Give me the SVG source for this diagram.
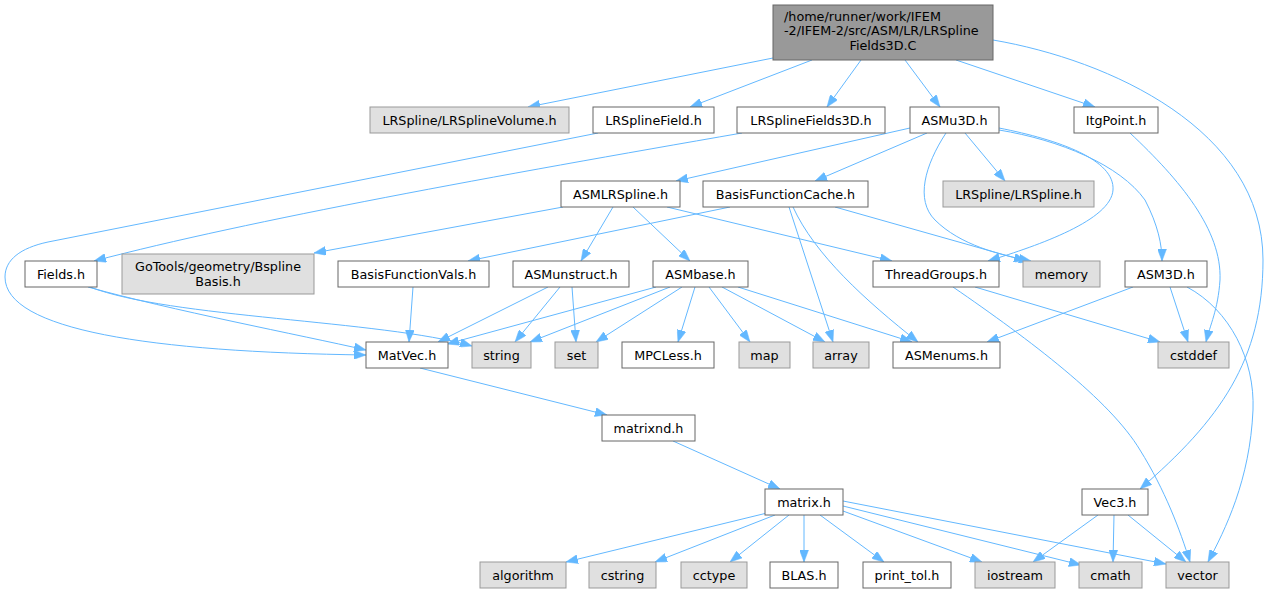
<svg xmlns="http://www.w3.org/2000/svg" width="1269" height="593" viewBox="0 0 1269 593">
<style>
text{font-family:"DejaVu Sans","Liberation Sans",sans-serif;font-size:12.75px;fill:#000;text-anchor:middle}
.n rect{fill:#fff;stroke:#666;stroke-width:1}
.g rect{fill:#e0e0e0;stroke:#999;stroke-width:1}
.r rect{fill:#999;stroke:#666;stroke-width:1}
#edges path{fill:none;stroke:#63b8ff;stroke-width:1;marker-end:url(#ah)}
</style>
<defs>
<marker id="ah" viewBox="0 0 12 9" refX="12" refY="4.5" markerWidth="12" markerHeight="9" markerUnits="userSpaceOnUse" orient="auto">
<path d="M0,0 L12,4.5 L0,9 z" fill="#63b8ff" stroke="#63b8ff" stroke-width="0.5"/>
</marker>
</defs>
<rect width="1269" height="593" fill="#fff"/>
<g id="edges">
<path d="M773,58 L528,107"/>
<path d="M812,60 L690,107"/>
<path d="M861,60 L827,107"/>
<path d="M905,60 L940,107"/>
<path d="M956,60 L1095,107"/>
<path d="M993,40 C1110,60 1263,130 1263,260 C1263,360 1220,420 1140,489"/>
<path d="M598,133 L48,242 C20,248 5,260 5,277 C5,330 150,352 366,355"/>
<path d="M742,133 C500,175 250,220 94,261"/>
<path d="M910,128 L676,181"/>
<path d="M927,133 L815,181"/>
<path d="M965,133 L1005,181"/>
<path d="M946,133 C925,165 915,200 935,220 C960,245 1000,255 1031,261"/>
<path d="M999,128 C1060,140 1115,160 1113,190 C1111,220 1040,245 988,261"/>
<path d="M999,130 C1060,140 1120,165 1145,200 C1158,225 1162,245 1162,261"/>
<path d="M563,207 L314,253"/>
<path d="M613,207 L581,261"/>
<path d="M633,207 L690,261"/>
<path d="M667,207 L892,261"/>
<path d="M730,207 L468,261"/>
<path d="M789,207 L833,342"/>
<path d="M793,207 C815,255 865,300 918,342"/>
<path d="M835,207 L1026,261"/>
<path d="M88,287 C170,310 300,335 366,350"/>
<path d="M90,287 C170,318 380,320 472,346"/>
<path d="M413,287 L409,342"/>
<path d="M548,287 L438,342"/>
<path d="M560,287 L515,342"/>
<path d="M572,287 L576,342"/>
<path d="M656,287 L447,344"/>
<path d="M670,287 L530,342"/>
<path d="M682,287 L596,342"/>
<path d="M695,287 L678,342"/>
<path d="M709,287 L750,342"/>
<path d="M722,287 L825,342"/>
<path d="M738,287 L912,342"/>
<path d="M975,287 L1160,342"/>
<path d="M953,287 C1030,340 1110,400 1140,450 C1165,490 1180,530 1190,562"/>
<path d="M1133,287 L987,342"/>
<path d="M1170,287 L1188,342"/>
<path d="M1187,287 C1230,310 1255,360 1253,410 C1250,480 1225,530 1208,562"/>
<path d="M1130,133 C1180,180 1222,230 1220,280 C1218,310 1210,325 1206,342"/>
<path d="M420,368 L607,415"/>
<path d="M673,441 L780,489"/>
<path d="M767,513 L566,562"/>
<path d="M775,515 L655,562"/>
<path d="M789,515 L730,562"/>
<path d="M804,515 L804,562"/>
<path d="M820,515 L884,562"/>
<path d="M843,511 L982,562"/>
<path d="M843,506 L1081,565"/>
<path d="M843,501 L1166,564"/>
<path d="M1098,515 L1033,562"/>
<path d="M1114,515 L1113,562"/>
<path d="M1128,515 L1186,562"/>
</g>
<g id="root" class="r"><rect x="773" y="5" width="220" height="55"/><text x="784" y="20.5" style="text-anchor:start">/home/runner/work/IFEM</text><text x="784" y="35.3" style="text-anchor:start">-2/IFEM-2/src/ASM/LR/LRSpline</text><text x="883" y="50">Fields3D.C</text></g>
<g id="LRSplineVolume" class="g"><rect x="370" y="107" width="199" height="26"/><text x="469.5" y="124.5">LRSpline/LRSplineVolume.h</text></g>
<g id="LRSplineField" class="n"><rect x="593" y="107" width="121" height="26"/><text x="653.5" y="124.5">LRSplineField.h</text></g>
<g id="LRSplineFields3D" class="n"><rect x="737" y="107" width="148" height="26"/><text x="811" y="124.5">LRSplineFields3D.h</text></g>
<g id="ASMu3D" class="n"><rect x="910" y="107" width="89" height="26"/><text x="954.5" y="124.5">ASMu3D.h</text></g>
<g id="ItgPoint" class="n"><rect x="1074" y="107" width="84" height="26"/><text x="1116" y="124.5">ItgPoint.h</text></g>
<g id="ASMLRSpline" class="n"><rect x="561" y="181" width="119" height="26"/><text x="620.5" y="198.5">ASMLRSpline.h</text></g>
<g id="BasisFunctionCache" class="n"><rect x="703" y="181" width="165" height="26"/><text x="785.5" y="198.5">BasisFunctionCache.h</text></g>
<g id="LRSpline" class="g"><rect x="943" y="181" width="151" height="26"/><text x="1018.5" y="198.5">LRSpline/LRSpline.h</text></g>
<g id="Fields" class="n"><rect x="25" y="261" width="72" height="26"/><text x="61" y="278.5">Fields.h</text></g>
<g id="BsplineBasis" class="g"><rect x="122" y="254" width="192" height="40"/><text x="218" y="271">GoTools/geometry/Bspline</text><text x="218" y="285.5">Basis.h</text></g>
<g id="BasisFunctionVals" class="n"><rect x="338" y="261" width="151" height="26"/><text x="413.5" y="278.5">BasisFunctionVals.h</text></g>
<g id="ASMunstruct" class="n"><rect x="513" y="261" width="116" height="26"/><text x="571" y="278.5">ASMunstruct.h</text></g>
<g id="ASMbase" class="n"><rect x="653" y="261" width="95" height="26"/><text x="700.5" y="278.5">ASMbase.h</text></g>
<g id="ThreadGroups" class="n"><rect x="873" y="261" width="126" height="26"/><text x="936" y="278.5">ThreadGroups.h</text></g>
<g id="memory" class="g"><rect x="1023" y="261" width="77" height="26"/><text x="1061.5" y="278.5">memory</text></g>
<g id="ASM3D" class="n"><rect x="1125" y="261" width="82" height="26"/><text x="1166" y="278.5">ASM3D.h</text></g>
<g id="MatVec" class="n"><rect x="366" y="342" width="82" height="26"/><text x="407" y="359.5">MatVec.h</text></g>
<g id="string" class="g"><rect x="472" y="342" width="59" height="26"/><text x="501.5" y="359.5">string</text></g>
<g id="set" class="g"><rect x="555" y="342" width="43" height="26"/><text x="576.5" y="359.5">set</text></g>
<g id="MPCLess" class="n"><rect x="622" y="342" width="92" height="26"/><text x="668" y="359.5">MPCLess.h</text></g>
<g id="map" class="g"><rect x="739" y="342" width="51" height="26"/><text x="764.5" y="359.5">map</text></g>
<g id="array" class="g"><rect x="813" y="342" width="56" height="26"/><text x="841" y="359.5">array</text></g>
<g id="ASMenums" class="n"><rect x="893" y="342" width="107" height="26"/><text x="946.5" y="359.5">ASMenums.h</text></g>
<g id="cstddef" class="g"><rect x="1158" y="342" width="71" height="26"/><text x="1193.5" y="359.5">cstddef</text></g>
<g id="matrixnd" class="n"><rect x="602" y="415" width="93" height="26"/><text x="648.5" y="432.5">matrixnd.h</text></g>
<g id="matrix" class="n"><rect x="765" y="489" width="78" height="26"/><text x="804" y="506.5">matrix.h</text></g>
<g id="Vec3" class="n"><rect x="1082" y="489" width="66" height="26"/><text x="1115" y="506.5">Vec3.h</text></g>
<g id="algorithm" class="g"><rect x="480" y="562" width="86" height="26"/><text x="523" y="579.5">algorithm</text></g>
<g id="cstring" class="g"><rect x="589" y="562" width="67" height="26"/><text x="622.5" y="579.5">cstring</text></g>
<g id="cctype" class="g"><rect x="681" y="562" width="66" height="26"/><text x="714" y="579.5">cctype</text></g>
<g id="BLAS" class="n"><rect x="770" y="562" width="68" height="26"/><text x="804" y="579.5">BLAS.h</text></g>
<g id="print_tol" class="n"><rect x="863" y="562" width="88" height="26"/><text x="907" y="579.5">print_tol.h</text></g>
<g id="iostream" class="g"><rect x="975" y="562" width="80" height="26"/><text x="1015" y="579.5">iostream</text></g>
<g id="cmath" class="g"><rect x="1079" y="562" width="63" height="26"/><text x="1110.5" y="579.5">cmath</text></g>
<g id="vector" class="g"><rect x="1166" y="562" width="63" height="26"/><text x="1197.5" y="579.5">vector</text></g>
</svg>
